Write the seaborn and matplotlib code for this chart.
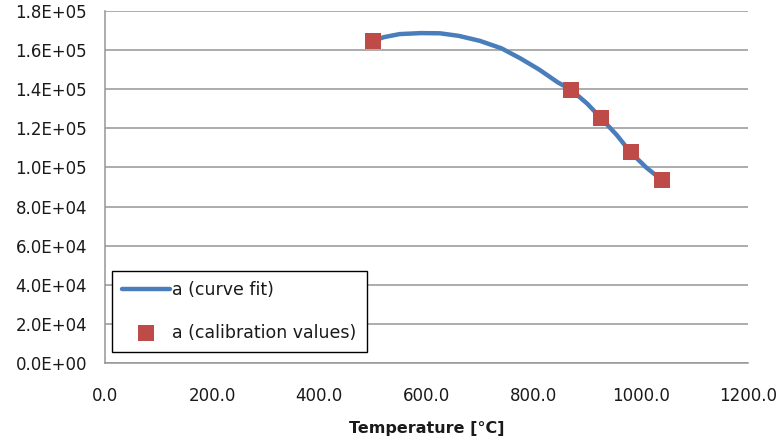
import matplotlib
matplotlib.use("Agg")
import matplotlib.pyplot as plt
import seaborn as sns
import pandas as pd
from matplotlib.ticker import FuncFormatter

# Data
fit_temperature = [500, 520, 550, 590, 625, 660, 700, 740, 775, 810, 845, 870,
                   900, 926, 955, 981, 1010, 1039]
fit_a = [164600, 166600, 168200, 168700, 168600, 167300, 164700, 160900, 155800,
         150100, 143500, 139700, 132600, 125100, 116600, 107700, 100000, 93600]
cal_temperature = [500, 870, 926, 981, 1039]
cal_a = [164600, 139700, 125100, 107700, 93600]
x_ticks = [0, 200, 400, 600, 800, 1000, 1200]
y_ticks = [0, 20000, 40000, 60000, 80000, 100000, 120000, 140000, 160000, 180000]
fit_label = "a (curve fit)"
cal_label = "a (calibration values)"
x_label = "Temperature [°C]"

sns.set_style("white")
plt.rcParams["font.family"] = ["DejaVu Sans"]

fit_df = pd.DataFrame({"T": fit_temperature, "a": fit_a})
cal_df = pd.DataFrame({"T": cal_temperature, "a": cal_a})

W, H = 784, 446
fig = plt.figure(figsize=(W / 100, H / 100), dpi=100)
left, right, top, bottom = 105, 748, 11, 363
ax = fig.add_axes([left / W, (H - bottom) / H, (right - left) / W, (bottom - top) / H])

grid_c = "#969696"
text_c = "#1a1a1a"

sns.lineplot(data=fit_df, x="T", y="a", ax=ax, color="#4A7EBB", linewidth=3.2,
             label=fit_label, zorder=3, sort=False)
sns.scatterplot(data=cal_df, x="T", y="a", ax=ax, color="#BE4B48", marker="s",
                s=135, edgecolor="none", label=cal_label, zorder=4)

ax.set_xlim(0, 1200)
ax.set_ylim(0, 180000)
ax.set_xticks(x_ticks)
ax.set_yticks(y_ticks)
ax.xaxis.set_major_formatter(FuncFormatter(lambda v, p: f"{v:.1f}"))
ax.yaxis.set_major_formatter(FuncFormatter(lambda v, p: f"{v:.1E}"))

ax.yaxis.grid(True, color=grid_c, linewidth=1.1)
ax.xaxis.grid(False)
ax.set_axisbelow(True)
for s in ["top", "right"]:
    ax.spines[s].set_visible(False)
for s in ["left", "bottom"]:
    ax.spines[s].set_color(grid_c)
    ax.spines[s].set_linewidth(1.1)

ax.tick_params(axis="both", which="major", direction="out", length=5, width=1.1,
               color=grid_c, labelsize=12, labelcolor=text_c)
ax.tick_params(axis="y", pad=8)
ax.tick_params(axis="x", pad=12)

ax.set_xlabel(x_label, fontsize=11.5, fontweight="bold", color=text_c, labelpad=12)
ax.set_ylabel("")

handles, labels = ax.get_legend_handles_labels()
leg = ax.legend(handles, labels, loc="upper left",
                bbox_to_anchor=(112 / W, 1 - 271 / H), bbox_transform=fig.transFigure,
                frameon=True, fancybox=False, framealpha=1, edgecolor="#000000",
                fontsize=12.5, handlelength=2.75, handletextpad=0.12, labelspacing=1.4,
                borderpad=0.6, borderaxespad=0)
leg.get_frame().set_linewidth(1.0)
for t in leg.get_texts():
    t.set_color(text_c)

fig.savefig("out.png", dpi=100)
